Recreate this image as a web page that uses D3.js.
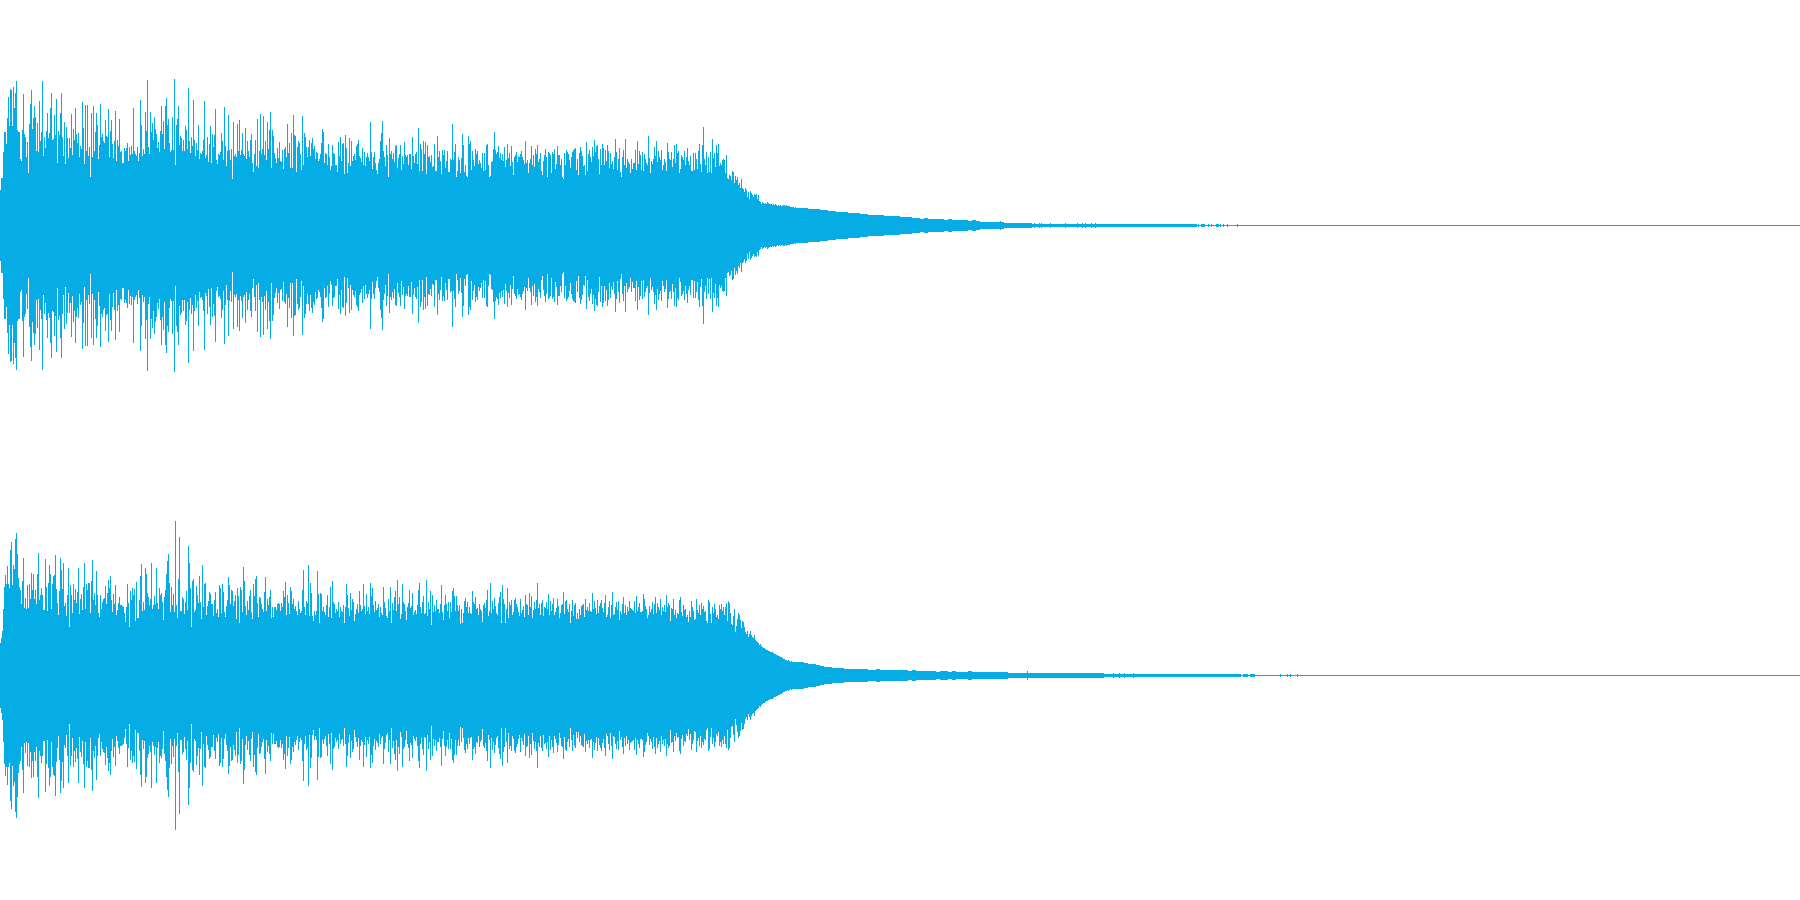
<!DOCTYPE html>
<html>
<head>
<meta charset="utf-8">
<script src="https://cdn.jsdelivr.net/npm/d3@7/dist/d3.min.js"></script>
<style>html,body{margin:0;padding:0;background:#fff;overflow:hidden}svg{display:block}</style>
</head>
<body>
<svg id="wave" width="1800" height="900"></svg>
<script>
// Peak amplitude per sample column, full scale = 225
const channel1Peaks = [
35,47,47,73,93,93,81,107,128,99,136,135,99,138,117,132,144,95,93,93,66,64,95,131,91,88,68,83,52,101,
121,135,96,107,119,108,74,102,73,124,84,93,144,69,88,77,94,112,87,92,117,132,85,86,110,90,126,62,94,90,
112,132,88,69,103,61,98,87,67,87,77,111,70,96,85,117,91,82,92,68,79,76,123,97,61,120,74,120,69,78,
48,112,68,119,74,93,112,100,66,80,121,88,91,84,82,105,89,88,116,68,94,105,81,67,84,114,64,85,79,106,
73,74,62,62,77,74,77,82,64,78,70,79,71,117,74,71,69,78,64,72,125,100,69,76,71,113,94,145,78,71,
113,93,102,85,108,96,91,77,83,73,94,119,91,104,76,119,127,100,106,82,73,75,108,75,146,60,
100,106,119,80,89,87,74,85,74,99,95,76,137,84,72,88,79,125,85,69,82,75,100,66,72,71,74,85,124,67,70,88,63,
81,99,62,91,78,90,116,65,61,71,70,73,92,84,65,118,79,59,74,110,75,65,76,46,103,69,71,68,101,74,
105,70,75,92,71,69,97,66,84,74,68,85,91,62,53,71,85,59,106,57,74,111,71,76,109,70,84,65,103,76,
95,113,57,95,89,72,67,62,77,67,83,64,63,75,56,76,78,68,101,72,82,57,92,57,110,90,89,53,78,84,
82,71,55,109,60,92,88,78,68,78,85,69,82,87,76,79,66,73,72,64,66,71,82,96,93,62,72,71,60,81,
68,55,59,80,72,71,60,60,53,83,69,88,64,81,82,51,90,77,52,62,87,59,84,64,69,71,65,79,81,85,
69,67,63,77,60,73,59,68,72,68,64,103,73,56,68,73,62,55,51,62,66,84,92,104,74,68,59,80,70,48,
87,71,74,66,72,63,79,80,57,67,71,80,55,69,61,83,70,68,70,60,71,71,56,88,69,62,71,73,61,97,
54,81,76,54,84,71,83,51,80,68,69,63,70,58,59,81,54,54,89,68,74,64,51,75,70,75,57,64,74,53,
53,66,65,101,65,73,81,48,54,68,65,52,67,91,80,53,60,49,48,89,81,84,55,74,65,59,76,71,74,61,
65,62,57,72,54,72,55,80,81,60,48,49,63,64,76,93,75,71,73,79,67,72,65,71,64,78,58,65,81,67,
72,59,79,63,50,68,70,73,63,69,68,71,74,68,65,61,84,62,65,52,62,66,79,60,70,58,76,71,80,63,
66,72,54,50,64,70,76,68,48,73,72,70,52,73,71,76,56,61,79,70,70,60,66,48,46,72,60,75,73,71,
65,57,68,73,75,76,77,55,66,50,72,78,74,69,59,60,50,83,54,71,75,68,63,78,69,85,73,79,80,66,
51,76,60,81,77,60,75,64,80,74,57,72,61,64,56,68,86,73,55,66,77,53,48,68,75,60,86,57,66,63,
61,52,66,56,62,62,75,55,84,61,74,70,55,73,54,71,66,62,60,89,67,52,64,61,66,78,69,84,63,74,
68,65,75,55,60,66,63,54,82,73,66,65,73,58,66,80,62,81,72,74,52,56,70,68,65,74,60,68,77,64,
60,69,54,54,72,55,72,66,56,74,81,61,53,80,98,66,60,73,52,68,53,73,52,86,67,72,58,80,72,81,
59,62,60,65,66,
65,52,70,47,46,50,49,45,54,53,42,49,45,48,40,42,37,46,37,36,33,37,35,28,33,26,34,32,30,28,
31,30,31,26,30,24,23,21,23,22,21,22,21,23,22,21,21,21,20,21,20,21,20,19,20,19,20,19,19,20,20,19,20,19,19,19,18,18,18,18,17,18,17,17,17,17,17,17
];
const channel2Peaks = [
32,37,44,66,88,100,91,109,91,87,125,133,90,110,106,136,142,121,97,88,85,71,94,117,67,77,66,90,67,91,
76,102,85,101,76,85,71,101,122,75,80,87,80,65,65,116,88,64,92,110,101,66,91,99,100,120,86,72,60,84,
117,105,86,112,69,72,59,80,107,48,90,80,62,91,75,86,72,83,107,61,76,81,65,88,112,66,91,85,92,92,
62,94,115,75,82,70,104,80,62,58,80,66,73,76,77,89,71,82,95,87,99,75,63,81,71,90,60,65,72,78,
70,70,69,68,62,53,68,91,72,48,84,75,87,80,86,54,93,57,57,75,99,111,64,73,65,107,101,82,78,70,
76,112,66,70,79,71,107,72,66,87,80,82,73,55,78,85,101,114,121,92,63,88,70,81,63,154,70,57,
96,138,64,64,78,76,61,73,84,65,129,112,87,48,94,96,63,65,89,80,72,99,73,56,110,68,91,92,60,69,74,83,
81,71,71,59,75,83,62,66,58,90,87,62,91,83,63,58,69,75,98,90,71,85,84,69,74,80,56,87,79,52,
88,85,63,108,94,69,60,74,65,79,85,63,56,91,79,96,99,72,58,78,77,71,66,63,83,98,64,76,70,78,
85,57,68,58,68,68,65,71,72,71,64,72,68,84,78,93,60,80,72,61,88,84,71,76,66,69,64,60,74,66,
62,64,85,105,68,60,74,72,110,59,92,82,59,54,64,60,64,104,81,52,82,81,64,68,63,60,70,80,58,68,
88,57,94,73,71,62,66,64,73,58,68,64,63,70,52,68,91,80,67,59,82,65,76,73,54,61,66,71,62,84,
70,64,66,91,69,61,81,64,68,61,92,79,87,70,63,74,65,67,71,58,68,62,60,88,73,67,59,57,76,64,
88,52,72,65,78,84,64,95,71,78,56,61,91,73,71,64,55,68,72,85,67,69,82,60,63,65,61,70,85,92,
68,62,73,79,61,62,95,59,73,66,84,50,80,63,70,64,75,66,66,62,71,90,63,55,70,80,71,64,73,57,
73,63,84,87,79,64,79,70,64,70,51,66,52,62,74,77,68,73,62,68,62,61,84,73,71,78,66,67,60,71,
66,64,53,70,72,67,75,85,59,64,92,62,74,66,77,69,62,60,72,78,83,52,90,76,71,52,66,87,57,73,
70,75,60,63,75,77,71,68,63,59,76,62,65,69,58,80,71,70,60,82,68,79,57,65,73,66,75,92,67,71,
60,72,75,59,68,67,73,66,81,60,74,64,71,77,60,63,67,76,69,57,62,70,71,83,61,74,75,66,63,71,
52,64,75,59,70,72,56,62,56,66,60,69,70,71,58,76,65,68,64,72,64,63,82,66,74,67,61,75,62,69,
72,75,67,63,72,80,58,60,68,74,57,70,83,60,61,68,73,65,74,55,64,61,71,78,62,70,60,68,64,74,
67,66,65,64,74,62,79,64,68,72,63,63,64,81,76,69,66,57,60,69,63,66,73,61,71,78,62,72,68,65,
76,60,68,64,70,63,80,68,72,70,54,67,66,76,60,65,57,62,61,75,78,63,59,70,65,66,58,60,53,64,
58,74,68,64,55,56,76,65,62,70,60,72,66,69,63,64,54,52,75,73,61,52,68,62,71,66,58,60,56,70,
66,71,64,68,60,
68,72,54,74,72,62,51,50,59,66,43,49,56,62,60,55,47,54,53,48,43,41,44,38,41,44,40,38,37,40,
35,34,33,32,30,31,29,28,27,27,26,25,25,24,24,23,23,23,22,21,21,20,20,19,19,18,18,17,16,16,15,15,14,15,14,13,14,13,13,13,13,13,13,13,13,13,13
];
// Tail of the decay, one peak per TAIL_BIN columns
const channel1Tail = [
17,17,16,16,16,15,15,14,14,13,13,13,12,12,12,11,11,10,10,10,10,9,9,9,9,8,8,8,7,7,6,7,
6,6,6,6,5,6,5,5,5,5,4,5,4,3,3,3,3,3,
3,2,2,2,2,2,2,2,
1,1,1,1,1,1,1,1,1,1,1,1,1,1,1,1,1,1,1,1,1,1,1,1,1,1,1,1,1,1,1,1,1,1,1,1,1,1,1,1,1
];
const channel2Tail = [
13,12,11,11,10,9,8,8,7,7,7,6,6,6,6,6,6,5,5,6,5,5,5,5,5,5,5,4,5,4,4,4,4,4,3,4,4,3,4,3,3,3,4,3,3,3,3,3,3,3,
3,3,2,2,2,2,2,2,2,2,2,2,2,2,2,2,2,
2,2,2,2,2,2,2,2,2,
1,1,1,1,1,1,1,
1,1,1,1,1,1,1,1,1,1,1,1,1,1,1,1,1,1,1,1,1,1,1,1,1,1
];
// Isolated one-column peaks on top of the tail
const channel1SpikeColumns = [1000,1034,1039,1041,1050,1065,1077,1082,1085,1091,1095,1196,1198,1201,1202,1203,1204,1208,1211,1216,1217,1218,1220,1223,1227,1237];
const channel1SpikePeaks   = [4,2,2,2,2,2,2,2,2,2,2,1,1,1,1,1,1,1,1,1,1,1,1,1,1,1];
const channel2SpikeColumns = [1027,1113,1119,1124,1133,1236,1237,1238,1239,1240,1243,1244,1245,1246,1247,1250,1251,1252,1253,1254,1280,1287,1290,1297];
const channel2SpikePeaks   = [4,2,2,2,2,1,1,1,1,1,1,1,1,1,1,1,1,1,1,1,1,1,1,1];

const TAIL_START = 800, TAIL_BIN = 4, TOTAL_COLUMNS = 1800, FULL_SCALE = 225;
const channelNames = ["channel1", "channel2"];
const channelData = [channel1Peaks, channel2Peaks];
const tailData = [channel1Tail, channel2Tail];
const spikeColumns = [channel1SpikeColumns, channel2SpikeColumns];
const spikePeaks = [channel1SpikePeaks, channel2SpikePeaks];
const WAVE_COLOR = "#06ade5";

const svg = d3.select("#wave");
const x = d3.scaleLinear().domain([0, TOTAL_COLUMNS]).range([0, 1800]);
const band = d3.scaleBand().domain(channelNames).range([0, 900]);

channelNames.forEach((name, c) => {
  const top = band(name);
  const y = d3.scaleLinear().domain([FULL_SCALE, -FULL_SCALE]).range([top, top + band.bandwidth()]);
  const g = svg.append("g").attr("class", name).attr("fill", WAVE_COLOR).attr("shape-rendering", "crispEdges");
  const bar = (sel, left, width) => sel
    .attr("x", left).attr("width", width)
    .attr("y", d => y(d))
    .attr("height", d => y(-d) - y(d) + 1);

  // silent baseline to the end of the clip
  g.append("rect").attr("x", x(TAIL_START)).attr("width", x(TOTAL_COLUMNS) - x(TAIL_START))
    .attr("y", y(0)).attr("height", 1);

  g.selectAll("rect.col").data(channelData[c]).join("rect").attr("class", "col")
    .call(bar, (d, i) => x(i), x(1) - x(0));

  g.selectAll("rect.tail").data(tailData[c]).join("rect").attr("class", "tail")
    .call(bar, (d, i) => x(TAIL_START + i * TAIL_BIN), x(TAIL_BIN) - x(0));

  g.selectAll("rect.spike").data(spikePeaks[c]).join("rect").attr("class", "spike")
    .call(bar, (d, i) => x(spikeColumns[c][i]), x(1) - x(0));
});
</script>
</body>
</html>
